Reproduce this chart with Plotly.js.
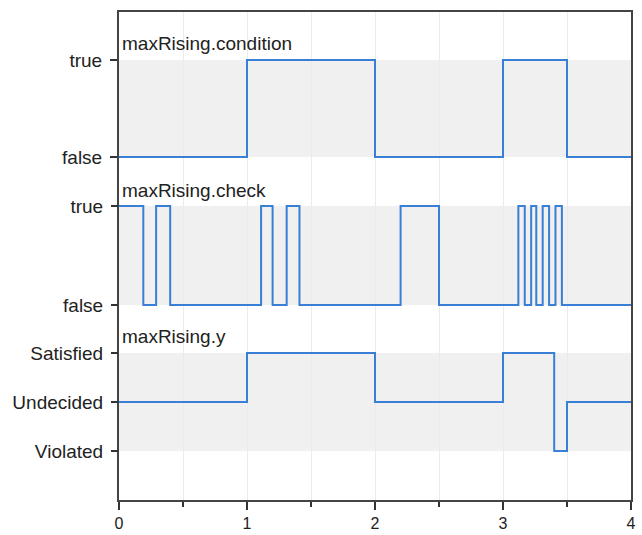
<!DOCTYPE html>
<html>
<head>
<meta charset="utf-8">
<script src="https://cdn.plot.ly/plotly-3.0.1.min.js"></script>
<style>html,body{margin:0;padding:0;background:#fff;}#chart{width:642px;height:535px;}</style>
</head>
<body>
<div id="chart"></div>
<script>
// Data (time in s)
var condTime = [0, 1, 2, 3, 3.5, 4];
var condVal  = [0, 1, 0, 1, 0, 0];          // 0 = false, 1 = true

var checkTime = [0, 0.19, 0.29, 0.4, 1.11, 1.2, 1.31, 1.41, 2.2, 2.5,
                 3.12, 3.17, 3.22, 3.26, 3.31, 3.36, 3.41, 3.46, 4];
var checkVal  = [1, 0, 1, 0, 1, 0, 1, 0, 1, 0,
                 1, 0, 1, 0, 1, 0, 1, 0, 0];

var yTime = [0, 1, 2, 3, 3.4, 3.5, 4];
var yVal  = [0, 1, 0, 1, -1, 0, 0];          // -1 Violated, 0 Undecided, 1 Satisfied

var xTickVals = [0, 1, 2, 3, 4];
var xTickText = ['0', '1', '2', '3', '4'];
var boolTicks = ['false', 'true'];
var propTicks = ['Violated', 'Undecided', 'Satisfied'];
var titles = ['maxRising.condition', 'maxRising.check', 'maxRising.y'];

var lineColor = '#3a7fd6';
var fontFam = 'Liberation Sans, Arial, sans-serif';
var fontSize = 19;

function tr(x, y, ax) {
  return {x: x, y: y, yaxis: ax, xaxis: 'x', type: 'scatter', mode: 'lines',
          line: {shape: 'hv', color: lineColor, width: 2}, hoverinfo: 'skip', showlegend: false};
}

var data = [tr(condTime, condVal, 'y'), tr(checkTime, checkVal, 'y2'), tr(yTime, yVal, 'y3')];

var yBase = {
  domain: [0, 1], showgrid: false, zeroline: false, ticks: 'outside', ticklen: 7,
  tickcolor: '#333', tickwidth: 2, ticklabelstandoff: 4,
  tickfont: {family: fontFam, size: fontSize, color: '#222'},
  fixedrange: true
};

var layout = {
  width: 642, height: 535,
  margin: {l: 119, r: 11, t: 12, b: 35},
  paper_bgcolor: '#fff', plot_bgcolor: '#fff',
  xaxis: {
    range: [0, 4], tickvals: xTickVals, ticktext: xTickText, ticks: 'outside', ticklen: 8,
    tickcolor: '#333', tickwidth: 2, showgrid: true, gridcolor: '#ebebeb', gridwidth: 1,
    minor: {dtick: 0.5, ticks: 'outside', ticklen: 5, tickwidth: 2, tickcolor: '#333',
            showgrid: true, gridcolor: '#ebebeb', gridwidth: 1},
    zeroline: false, showline: true, linecolor: '#444', linewidth: 2, mirror: true,
    ticklabelstandoff: 0,
    tickfont: {family: fontFam, size: 16, color: '#222'}
  },
  yaxis: Object.assign({}, yBase, {range: [-3.536, 1.495], tickvals: [0, 1], ticktext: boolTicks,
    showline: true, linecolor: '#444', linewidth: 2, mirror: true}),
  yaxis2: Object.assign({}, yBase, {range: [-1.970, 2.960], tickvals: [0, 1], ticktext: boolTicks,
    overlaying: 'y', side: 'left', showline: false}),
  yaxis3: Object.assign({}, yBase, {range: [-2.0, 7.959], tickvals: [-1, 0, 1], ticktext: propTicks,
    overlaying: 'y', side: 'left', showline: false}),
  shapes: [
    {type: 'rect', xref: 'x', yref: 'y', x0: 0, x1: 4, y0: 0, y1: 1, fillcolor: '#f0f0f0', line: {width: 0}, layer: 'below'},
    {type: 'rect', xref: 'x', yref: 'y2', x0: 0, x1: 4, y0: 0, y1: 1, fillcolor: '#f0f0f0', line: {width: 0}, layer: 'below'},
    {type: 'rect', xref: 'x', yref: 'y3', x0: 0, x1: 4, y0: -1, y1: 1, fillcolor: '#f0f0f0', line: {width: 0}, layer: 'below'}
  ],
  annotations: [
    {text: titles[0], xref: 'paper', yref: 'paper', x: 0, y: (500 - 44) / 488},
    {text: titles[1], xref: 'paper', yref: 'paper', x: 0, y: (500 - 190) / 488},
    {text: titles[2], xref: 'paper', yref: 'paper', x: 0, y: (500 - 337) / 488}
  ].map(function (a) {
    return Object.assign(a, {xanchor: 'left', yanchor: 'middle', xshift: 1, showarrow: false,
      font: {family: fontFam, size: fontSize, color: '#222'}});
  })
};

Plotly.newPlot('chart', data, layout, {displayModeBar: false, staticPlot: true});
</script>
</body>
</html>
